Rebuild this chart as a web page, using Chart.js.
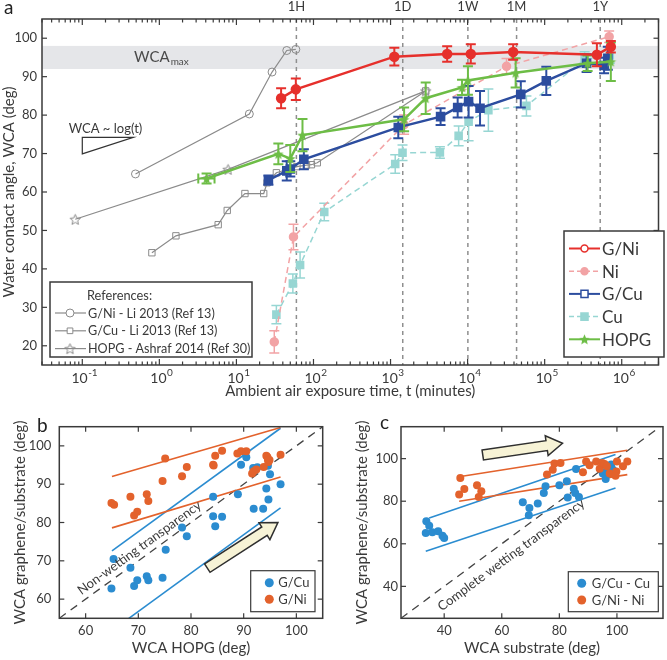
<!DOCTYPE html>
<html>
<head>
<meta charset="utf-8">
<script src="https://cdn.jsdelivr.net/npm/chart.js@4.4.1/dist/chart.umd.min.js"></script>
<style>
    html, body { margin: 0; padding: 0; background: #fff; }
    #wrap { position: relative; width: 667px; height: 660px; }
    canvas { position: absolute; }
</style>
</head>
<body>
<div id="wrap">
    <canvas id="ChartA" width="667" height="400" style="left:0;top:0"></canvas>
    <canvas id="ChartB" width="333" height="260" style="left:0;top:400px"></canvas>
    <canvas id="ChartC" width="334" height="260" style="left:333px;top:400px"></canvas>
</div>
<script>
// ---------- panel a : WCA vs ambient exposure time (minutes) ----------
const gniT   = [38, 59, 1120, 5430, 11000, 39000, 476000, 722000];
const gniWca = [84.4, 86.7, 95.2, 95.9, 95.9, 96.4, 95.7, 97.8];
const gniErr = [2.6, 2.8, 2.3, 2.0, 2.5, 2.0, 3.0, 1.5];

const niT   = [31, 55, 1500, 32000, 687000];
const niWca = [21.0, 48.3, 77.5, 92.7, 100.4];
const niErr = [2.9, 3.3, 2.5, 2.0, 1.5];

const gcuT   = [26, 45, 50, 75, 1260, 4460, 7430, 10300, 14500, 49000, 105000, 350000, 590000, 660000];
const gcuWca = [63.1, 65.5, 66.0, 68.5, 76.8, 79.6, 82.0, 83.5, 81.8, 85.4, 88.9, 93.5, 92.9, 94.8];
const gcuErr = [1.2, 2.5, 2.0, 2.6, 2.8, 2.2, 2.6, 4.1, 4.5, 3.4, 3.7, 2.3, 2.0, 3.0];

const cuT   = [33, 54, 67, 138, 1150, 1430, 4370, 7650, 10300, 18600, 58000, 330000, 700000];
const cuWca = [28.1, 36.2, 41.0, 54.8, 67.3, 70.2, 70.3, 74.6, 78.3, 81.3, 82.4, 94.5, 95.5];
const cuErr = [2.4, 2.5, 3.4, 2.3, 2.4, 2.0, 1.5, 2.6, 5.0, 5.5, 2.6, 2.0, 2.0];

const hopgT      = [4.1, 35, 50, 72, 1500, 2860, 8470, 10100, 42000, 361000, 722000];
const hopgWca    = [63.5, 69.9, 68.7, 74.8, 78.9, 84.4, 87.2, 89.0, 91.0, 93.5, 93.9];
const hopgErr    = [1.3, 2.7, 3.5, 4.2, 3.1, 4.1, 2.0, 3.7, 3.8, 2.0, 5.0];
const hopgTRange = [[3.2, 5.2]];

// literature data (grey)
const liNiT    = [0.49, 14.7, 29, 45, 59];
const liNiWca  = [64.7, 80.3, 91.2, 96.8, 97.1];
const liCuT    = [0.8, 1.64, 5.8, 7.6, 12.9, 22.6, 25, 33, 61, 81, 94, 112, 2860];
const liCuWca  = [44.2, 48.6, 51.5, 55.2, 59.6, 59.6, 62.4, 65.0, 66.6, 67.0, 67.1, 67.6, 86.3];
const ashT     = [0.081, 7.8, 2860];
const ashWca   = [52.9, 65.9, 86.3];

const decades     = [0.1, 1, 10, 100, 1e3, 1e4, 1e5, 1e6];
const decadeExp   = ['-1', '0', '1', '2', '3', '4', '5', '6'];
const yTicksA     = [20, 30, 40, 50, 60, 70, 80, 90, 100];
const timeMarks   = [60, 1440, 10080, 43200, 525600];
const timeLabels  = ['1H', '1D', '1W', '1M', '1Y'];
const wcaMaxBand  = [92, 98];

// ---------- panel b : graphene WCA vs HOPG WCA ----------
const bCuX = [64.9, 65.3, 68.5, 69.2, 69.8, 71.6, 71.9, 74.6, 75.2, 78.3, 79.2, 84.2, 84.2, 84.6, 85.9, 88.9, 89.5, 90.5, 91.8, 91.9, 92.6, 93.7, 94.3, 94.6, 94.7, 95.0, 97.0];
const bCuY = [62.8, 70.5, 68.2, 63.4, 64.9, 66.0, 64.9, 65.6, 72.9, 78.7, 76.4, 86.7, 81.6, 79.0, 81.5, 87.4, 95.1, 97.0, 94.2, 83.6, 94.4, 83.6, 88.9, 94.8, 86.0, 92.6, 90.0];
const bNiX = [64.9, 65.4, 68.5, 69.2, 69.8, 71.6, 71.9, 74.6, 75.1, 78.3, 79.2, 84.2, 84.3, 84.6, 85.9, 88.8, 89.5, 90.5, 91.6, 91.9, 92.4, 93.8, 94.3, 94.5, 94.6, 94.7, 94.9, 97.0];
const bNiY = [85.1, 84.6, 86.7, 81.8, 82.8, 87.4, 85.6, 90.8, 96.7, 92.1, 94.5, 95.1, 94.9, 97.4, 98.7, 98.0, 98.6, 98.6, 92.8, 93.4, 93.8, 94.5, 97.4, 97.1, 96.4, 95.8, 96.3, 97.7];
const bNiHiX = [65, 97],   bNiHiY = [92.0, 104.8];
const bNiLoX = [65, 97],   bNiLoY = [78.6, 91.9];
const bCuHiX = [65, 97],   bCuHiY = [72.6, 104.6];
const bCuLoX = [68.2, 97], bCuLoY = [55.0, 83.8];
const bDiag = [55, 105];
const bTicks = [60, 70, 80, 90, 100];

// ---------- panel c : graphene WCA vs substrate WCA ----------
const cCuX = [33.8, 34.8, 33.6, 35.9, 37.9, 39.4, 40.0, 67.3, 69.6, 69.4, 72.5, 74.6, 75.2, 80.0, 82.6, 82.9, 85.0, 85.5, 86.8, 85.8, 95.1, 96.1, 96.9, 98.0, 96.3, 98.6];
const cCuY = [70.6, 68.5, 65.1, 65.4, 65.9, 63.8, 62.7, 79.5, 76.8, 73.4, 78.9, 83.9, 87.0, 87.5, 89.4, 81.8, 85.9, 83.9, 82.0, 95.1, 93.0, 90.4, 95.6, 97.2, 94.0, 94.8];
const cNiX = [45.2, 45.6, 47.0, 51.4, 52.0, 52.9, 75.7, 77.7, 78.3, 80.4, 88.2, 89.3, 90.5, 92.8, 94.0, 94.9, 95.7, 96.5, 97.5, 99.8, 100.0, 102.1, 103.6, 99.5];
const cNiY = [83.1, 90.9, 85.7, 87.5, 82.0, 84.7, 92.5, 94.8, 97.7, 98.0, 93.6, 98.7, 96.9, 98.7, 95.3, 98.0, 97.5, 96.4, 93.0, 94.0, 98.7, 96.4, 98.7, 92.0];
const cNiHiX = [44.6, 103.6], cNiHiY = [91.4, 103.9];
const cNiLoX = [45.2, 103.6], cNiLoY = [80.0, 92.5];
const cCuHiX = [34.8, 99.5],  cCuHiY = [72.1, 101.9];
const cCuLoX = [33.6, 99.5],  cCuLoY = [56.5, 86.2];
const cDiag = [25, 115];
const cXTicks = [40, 60, 80, 100];
const cYTicks = [40, 60, 80, 100];


const FONT = 'Lato, "Open Sans", sans-serif';
const TXT = '#3a3a3a';
const AX = '#3a3a3a';
const RED = '#e6302c', PINK = '#f2a3a5', BLUE = '#2c4d9f', CYAN = '#97d6d3', GREEN = '#6dbd46', GREY = '#8b8b8b';
const SBLUE = '#2b8cd0', SORANGE = '#e3622c';

const pts = (xs, ys) => xs.map((x, i) => ({ x: x, y: ys[i] }));

const starImage = (size, fill, stroke) => {
    const c = document.createElement('canvas');
    c.width = c.height = size;
    const g = c.getContext('2d');
    const r = size / 2 - 1, ri = r * 0.45, cx = size / 2, cy = size / 2 + 0.6;
    g.beginPath();
    for (let k = 0; k < 10; k++) {
        const a = -Math.PI / 2 + k * Math.PI / 5, rr = k % 2 ? ri : r;
        g.lineTo(cx + rr * Math.cos(a), cy + rr * Math.sin(a));
    }
    g.closePath();
    if (fill) { g.fillStyle = fill; g.fill(); }
    if (stroke) { g.strokeStyle = stroke; g.lineWidth = 1; g.stroke(); }
    return c;
};
const starGreen = starImage(13, GREEN, null);
const starGrey = starImage(13, null, GREY);

const drawMarker = (ctx, style, x, y, r, fill, stroke, lw) => {
    ctx.save();
    ctx.setLineDash([]);
    if (style instanceof HTMLCanvasElement) {
        ctx.drawImage(style, x - style.width / 2, y - style.height / 2);
        ctx.restore();
        return;
    }
    ctx.beginPath();
    if (style === 'rect') {
        const s = r * Math.SQRT1_2;
        ctx.rect(x - s, y - s, 2 * s, 2 * s);
    } else {
        ctx.arc(x, y, r, 0, Math.PI * 2);
    }
    if (fill) { ctx.fillStyle = fill; ctx.fill(); }
    if (stroke) { ctx.strokeStyle = stroke; ctx.lineWidth = lw || 1; ctx.stroke(); }
    ctx.restore();
};

const errorBars = (chart, index) => {
    const ds = chart.data.datasets[index];
    if (!ds.errors) return;
    const meta = chart.getDatasetMeta(index);
    const { ctx, chartArea: a, scales: { x: xs, y: ys } } = chart;
    ctx.save();
    ctx.beginPath();
    ctx.rect(a.left, a.top, a.right - a.left, a.bottom - a.top);
    ctx.clip();
    ctx.strokeStyle = ds.borderColor;
    ctx.lineWidth = ds.errWidth || 2;
    ctx.setLineDash([]);
    ds.data.forEach((p, j) => {
        const e = ds.errors[j];
        const x = meta.data[j].x, y = meta.data[j].y;
        const y1 = ys.getPixelForValue(p.y - e), y2 = ys.getPixelForValue(p.y + e);
        ctx.beginPath();
        ctx.moveTo(x, y1); ctx.lineTo(x, y2);
        ctx.moveTo(x - 5, y1); ctx.lineTo(x + 5, y1);
        ctx.moveTo(x - 5, y2); ctx.lineTo(x + 5, y2);
        if (ds.xErrors && ds.xErrors[j]) {
            const xa = xs.getPixelForValue(ds.xErrors[j][0]), xb = xs.getPixelForValue(ds.xErrors[j][1]);
            ctx.moveTo(xa, y); ctx.lineTo(xb, y);
            ctx.moveTo(xa, y - 5); ctx.lineTo(xa, y + 5);
            ctx.moveTo(xb, y - 5); ctx.lineTo(xb, y + 5);
        }
        ctx.stroke();
    });
    ctx.restore();
};

const line = (ctx, x0, y0, x1, y1) => {
    ctx.beginPath(); ctx.moveTo(x0, y0); ctx.lineTo(x1, y1); ctx.stroke();
};

const drawFrame = (chart, xTicks, yTicks, len) => {
    const { ctx, chartArea: a, scales: { x, y } } = chart;
    ctx.save();
    ctx.strokeStyle = AX;
    ctx.lineWidth = 1.5;
    ctx.setLineDash([]);
    ctx.strokeRect(a.left, a.top, a.right - a.left, a.bottom - a.top);
    ctx.lineWidth = 1.2;
    if (xTicks) xTicks.forEach(v => {
        const px = x.getPixelForValue(v);
        line(ctx, px, a.bottom, px, a.bottom - len);
        line(ctx, px, a.top, px, a.top + len);
    });
    yTicks.forEach(v => {
        const py = y.getPixelForValue(v);
        line(ctx, a.left, py, a.left + len, py);
        line(ctx, a.right, py, a.right - len, py);
    });
    ctx.restore();
};

const text = (ctx, s, x, y, size, align, base, color) => {
    ctx.font = size + 'px ' + FONT;
    ctx.fillStyle = color || TXT;
    ctx.textAlign = align || 'left';
    ctx.textBaseline = base || 'alphabetic';
    ctx.fillText(s, x, y);
};

const drawArrow = (ctx, x0, y0, x1, y1) => {
    const ang = Math.atan2(y1 - y0, x1 - x0), len = Math.hypot(x1 - x0, y1 - y0);
    const sh = 5, hw = 10, hl = 16;
    ctx.save();
    ctx.translate(x0, y0);
    ctx.rotate(ang);
    ctx.beginPath();
    ctx.moveTo(0, -sh); ctx.lineTo(len - hl, -sh); ctx.lineTo(len - hl, -hw); ctx.lineTo(len, 0);
    ctx.lineTo(len - hl, hw); ctx.lineTo(len - hl, sh); ctx.lineTo(0, sh);
    ctx.closePath();
    ctx.fillStyle = '#f7f3d6';
    ctx.fill();
    ctx.strokeStyle = '#2f2f2f';
    ctx.lineWidth = 1.5;
    ctx.stroke();
    ctx.restore();
};

const diagText = (chart, s, vx, vy) => {
    const { ctx, scales: { x, y } } = chart;
    const ang = Math.atan2(y.getPixelForValue(100) - y.getPixelForValue(50), x.getPixelForValue(100) - x.getPixelForValue(50));
    ctx.save();
    ctx.translate(x.getPixelForValue(vx), y.getPixelForValue(vy));
    ctx.rotate(ang);
    text(ctx, s, 0, 0, 13, 'center', 'middle');
    ctx.restore();
};

const dotLegend = (ctx, bx, by, bw, bh, rows, dotX, textX) => {
    ctx.save();
    ctx.fillStyle = '#fff';
    ctx.fillRect(bx, by, bw, bh);
    ctx.strokeStyle = AX;
    ctx.lineWidth = 1.2;
    ctx.strokeRect(bx, by, bw, bh);
    rows.forEach(r => {
        drawMarker(ctx, 'circle', dotX, r.y, 4.5, r.color);
        text(ctx, r.label, textX, r.y + 0.5, 13, 'left', 'middle');
    });
    ctx.restore();
};


// ---------- chart a ----------
const legendA = [
    { label: 'G/Ni', color: RED, dash: [], lw: 2, marker: 'circle', r: 3.5, fill: '#fff' },
    { label: 'Ni', color: PINK, dash: [5, 3], lw: 1.5, marker: 'circle', r: 3.5, fill: PINK },
    { label: 'G/Cu', color: BLUE, dash: [], lw: 2, marker: 'rect', r: 5, fill: '#fff' },
    { label: 'Cu', color: CYAN, dash: [5, 3], lw: 1.5, marker: 'rect', r: 5, fill: CYAN },
    { label: 'HOPG', color: GREEN, dash: [], lw: 2, marker: starGreen }
];
const legendRefs = [
    { label: 'G/Ni - Li 2013 (Ref 13)', marker: 'circle' },
    { label: 'G/Cu - Li 2013 (Ref 13)', marker: 'rect' },
    { label: 'HOPG - Ashraf 2014 (Ref 30)', marker: starGrey }
];

const PanelA = {
    id: 'panelA',
    beforeDatasetsDraw(chart) {
        const { ctx, chartArea: a, scales: { x, y } } = chart;
        ctx.save();
        const yHi = y.getPixelForValue(wcaMaxBand[1]), yLo = y.getPixelForValue(wcaMaxBand[0]);
        ctx.fillStyle = '#e5e6e9';
        ctx.fillRect(a.left, yHi, a.right - a.left, yLo - yHi);
        const ym = (yHi + yLo) / 2;
        text(ctx, 'WCA', x.getPixelForValue(0.47), ym + 5, 15, 'left', 'alphabetic', '#4a4a4a');
        const w = ctx.measureText('WCA').width;
        text(ctx, 'max', x.getPixelForValue(0.47) + w + 1, ym + 8, 10, 'left', 'alphabetic', '#4a4a4a');

        ctx.strokeStyle = '#8f8f8f';
        ctx.lineWidth = 1.5;
        ctx.setLineDash([4, 4]);
        timeMarks.forEach(t => {
            const px = x.getPixelForValue(t);
            line(ctx, px, a.top, px, a.bottom);
        });
        ctx.restore();
    },
    afterDatasetDraw(chart, args) {
        errorBars(chart, args.index);
    },
    afterDraw(chart) {
        const { ctx, chartArea: a, scales: { x, y } } = chart;
        drawFrame(chart, null, yTicksA, 5);

        // log minor ticks top and bottom
        ctx.save();
        ctx.strokeStyle = AX;
        ctx.lineWidth = 1.2;
        for (let d = 0.01; d <= 1e6; d *= 10) {
            for (let m = 1; m <= 9; m++) {
                const v = m * d;
                if (v < x.min || v > x.max) continue;
                const px = x.getPixelForValue(v), L = m === 1 ? 6 : 3.5;
                line(ctx, px, a.bottom, px, a.bottom - L);
                line(ctx, px, a.top, px, a.top + L);
            }
        }
        ctx.restore();

        // decade labels with superscript
        decades.forEach((v, i) => {
            const px = x.getPixelForValue(v);
            ctx.font = '14px ' + FONT;
            const wb = ctx.measureText('10').width;
            ctx.font = '10px ' + FONT;
            const we = ctx.measureText(decadeExp[i]).width;
            const x0 = px - (wb + we) / 2 + 2;
            text(ctx, '10', x0, a.bottom + 18, 14);
            text(ctx, decadeExp[i], x0 + wb + 0.5, a.bottom + 11, 10);
        });

        // top time labels
        timeMarks.forEach((t, i) => {
            text(ctx, timeLabels[i], x.getPixelForValue(t), 11, 13, 'center');
        });

        // slope annotation
        text(ctx, 'WCA ~ log(t)', x.getPixelForValue(0.2), y.getPixelForValue(76.4), 13, 'center', 'middle');
        ctx.save();
        ctx.strokeStyle = '#333';
        ctx.lineWidth = 1.2;
        ctx.beginPath();
        ctx.moveTo(x.getPixelForValue(0.46), y.getPixelForValue(74.2));
        ctx.lineTo(x.getPixelForValue(0.1), y.getPixelForValue(74.2));
        ctx.lineTo(x.getPixelForValue(0.1), y.getPixelForValue(69.9));
        ctx.closePath();
        ctx.stroke();
        ctx.restore();

        // main legend
        ctx.save();
        ctx.fillStyle = '#fff';
        ctx.fillRect(564, 231, 100, 126);
        ctx.strokeStyle = AX;
        ctx.lineWidth = 1.5;
        ctx.strokeRect(564, 231, 100, 126);
        legendA.forEach((r, i) => {
            const yy = 248.5 + i * 22.7;
            ctx.strokeStyle = r.color;
            ctx.lineWidth = r.lw;
            ctx.setLineDash(r.dash);
            line(ctx, 569, yy, 600, yy);
            drawMarker(ctx, r.marker, 584.5, yy, r.r, r.fill, r.color, 1.5);
            text(ctx, r.label, 602, yy + 1, 17, 'left', 'middle');
        });
        ctx.restore();

        // references legend
        ctx.save();
        ctx.fillStyle = '#fff';
        ctx.fillRect(50, 282, 202, 75);
        ctx.strokeStyle = AX;
        ctx.lineWidth = 1.5;
        ctx.strokeRect(50, 282, 202, 75);
        text(ctx, 'References:', 87, 295.5, 12.8, 'left', 'middle');
        legendRefs.forEach((r, i) => {
            const yy = 313 + i * 17.8;
            ctx.strokeStyle = GREY;
            ctx.lineWidth = 1.2;
            line(ctx, 55, yy, 86, yy);
            drawMarker(ctx, r.marker, 70, yy, 4, '#fff', GREY, 1);
            text(ctx, r.label, 88, yy + 0.5, 12.6, 'left', 'middle');
        });
        ctx.restore();

        text(ctx, 'a', 4, 14, 19, 'left', 'alphabetic', '#222');
    }
};

const ChartA = new Chart(document.getElementById('ChartA'), {
    type: 'line',
    data: {
        datasets: [{
            label: 'G/Ni', data: pts(gniT, gniWca), errors: gniErr,
            borderColor: RED, backgroundColor: RED, borderWidth: 2.5,
            pointStyle: 'circle', pointRadius: 4, pointBackgroundColor: RED, pointBorderColor: RED
        }, {
            label: 'HOPG', data: pts(hopgT, hopgWca), errors: hopgErr, xErrors: hopgTRange,
            borderColor: GREEN, backgroundColor: GREEN, borderWidth: 2.5,
            pointStyle: starGreen, pointRadius: 6
        }, {
            label: 'G/Cu', data: pts(gcuT, gcuWca), errors: gcuErr,
            borderColor: BLUE, backgroundColor: BLUE, borderWidth: 2.5,
            pointStyle: 'rect', pointRadius: 5, pointBackgroundColor: BLUE, pointBorderColor: BLUE
        }, {
            label: 'Ni', data: pts(niT, niWca), errors: niErr, errWidth: 1.5,
            borderColor: PINK, backgroundColor: PINK, borderWidth: 1.5, borderDash: [6, 4],
            pointStyle: 'circle', pointRadius: 4, pointBackgroundColor: PINK, pointBorderColor: PINK
        }, {
            label: 'Cu', data: pts(cuT, cuWca), errors: cuErr, errWidth: 1.5,
            borderColor: CYAN, backgroundColor: CYAN, borderWidth: 1.5, borderDash: [6, 4],
            pointStyle: 'rect', pointRadius: 5, pointBackgroundColor: CYAN, pointBorderColor: CYAN
        }, {
            label: 'G/Ni - Li 2013 (Ref 13)', data: pts(liNiT, liNiWca),
            borderColor: GREY, borderWidth: 1.2,
            pointStyle: 'circle', pointRadius: 4, pointBackgroundColor: 'rgba(0,0,0,0)', pointBorderColor: GREY, pointBorderWidth: 1
        }, {
            label: 'G/Cu - Li 2013 (Ref 13)', data: pts(liCuT, liCuWca),
            borderColor: GREY, borderWidth: 1.2,
            pointStyle: 'rect', pointRadius: 4.5, pointBackgroundColor: 'rgba(0,0,0,0)', pointBorderColor: GREY, pointBorderWidth: 1
        }, {
            label: 'HOPG - Ashraf 2014 (Ref 30)', data: pts(ashT, ashWca),
            borderColor: GREY, borderWidth: 1.2,
            pointStyle: starGrey, pointRadius: 6
        }]
    },
    options: {
        responsive: false,
        animation: false,
        events: [],
        layout: { padding: { top: 19, right: 3, left: 0, bottom: 0 } },
        plugins: { legend: { display: false }, tooltip: { enabled: false } },
        scales: {
            x: {
                type: 'logarithmic', min: 0.03, max: 3e6,
                afterFit: (s) => { s.height = 35; },
                afterBuildTicks: (s) => { s.ticks = decades.map(v => ({ value: v })); },
                ticks: { display: false },
                grid: { display: false, drawTicks: false },
                border: { display: false },
                title: { display: true, text: 'Ambient air exposure time, t (minutes)', color: TXT, font: { family: FONT, size: 15 }, padding: 0 }
            },
            y: {
                min: 15, max: 105,
                afterFit: (s) => { s.width = 42; },
                afterBuildTicks: (s) => { s.ticks = yTicksA.map(v => ({ value: v })); },
                ticks: { color: TXT, font: { family: FONT, size: 13 }, padding: 5 },
                grid: { display: false, drawTicks: false },
                border: { display: false },
                title: { display: true, text: 'Water contact angle, WCA (deg)', color: TXT, font: { family: FONT, size: 15 }, padding: 0 }
            }
        }
    },
    plugins: [PanelA]
});


// ---------- chart b ----------
const PanelB = {
    id: 'panelB',
    afterDraw(chart) {
        const { ctx, scales: { x, y } } = chart;
        drawFrame(chart, bTicks, bTicks, 5);
        diagText(chart, 'Non-wetting transparency', 70.2, 73.4);
        drawArrow(ctx, x.getPixelForValue(83.1), y.getPixelForValue(68.1), x.getPixelForValue(96.5), y.getPixelForValue(80.0));
        dotLegend(ctx, 250.7, 170.7, 64.3, 41, [
            { label: 'G/Cu', color: SBLUE, y: 182.7 },
            { label: 'G/Ni', color: SORANGE, y: 199.3 }
        ], 269.3, 278.3);
        text(ctx, 'b', 37, 32, 19, 'left', 'alphabetic', '#222');
    }
};

const ChartB = new Chart(document.getElementById('ChartB'), {
    type: 'scatter',
    data: {
        datasets: [
            { label: 'G/Ni', data: pts(bNiX, bNiY), pointRadius: 4, pointBackgroundColor: SORANGE, pointBorderWidth: 0 },
            { label: 'G/Cu', data: pts(bCuX, bCuY), pointRadius: 4, pointBackgroundColor: SBLUE, pointBorderWidth: 0 },
            { data: pts(bNiHiX, bNiHiY), showLine: true, pointRadius: 0, borderColor: SORANGE, borderWidth: 1.6 },
            { data: pts(bNiLoX, bNiLoY), showLine: true, pointRadius: 0, borderColor: SORANGE, borderWidth: 1.6 },
            { data: pts(bCuHiX, bCuHiY), showLine: true, pointRadius: 0, borderColor: SBLUE, borderWidth: 1.6 },
            { data: pts(bCuLoX, bCuLoY), showLine: true, pointRadius: 0, borderColor: SBLUE, borderWidth: 1.6 },
            { data: pts(bDiag, bDiag), showLine: true, pointRadius: 0, borderColor: '#444', borderWidth: 1.3, borderDash: [8, 6] }
        ]
    },
    options: {
        responsive: false,
        animation: false,
        events: [],
        layout: { padding: { top: 26.7, right: 10.3, left: 11, bottom: 3 } },
        plugins: { legend: { display: false }, tooltip: { enabled: false } },
        scales: {
            x: {
                min: 55, max: 105,
                afterFit: (s) => { s.height = 38.7; },
                afterBuildTicks: (s) => { s.ticks = bTicks.map(v => ({ value: v })); },
                ticks: { color: TXT, font: { family: FONT, size: 13 }, padding: 5 },
                grid: { display: false, drawTicks: false },
                border: { display: false },
                title: { display: true, text: 'WCA HOPG (deg)', color: TXT, font: { family: FONT, size: 15 }, padding: 0 }
            },
            y: {
                min: 55, max: 105,
                afterFit: (s) => { s.width = 48.3; },
                afterBuildTicks: (s) => { s.ticks = bTicks.map(v => ({ value: v })); },
                ticks: { color: TXT, font: { family: FONT, size: 13 }, padding: 8 },
                grid: { display: false, drawTicks: false },
                border: { display: false },
                title: { display: true, text: 'WCA graphene/substrate (deg)', color: TXT, font: { family: FONT, size: 15 }, padding: 0 }
            }
        }
    },
    plugins: [PanelB]
});


// ---------- chart c ----------
const PanelC = {
    id: 'panelC',
    afterDraw(chart) {
        const { ctx, scales: { x, y } } = chart;
        drawFrame(chart, cXTicks, cYTicks, 5);
        diagText(chart, 'Complete wetting transparency', 63.3, 54.7);
        drawArrow(ctx, x.getPixelForValue(53.4), y.getPixelForValue(101.7), x.getPixelForValue(81.1), y.getPixelForValue(107.2));
        dotLegend(ctx, 235.3, 171.7, 90, 40, [
            { label: 'G/Cu - Cu', color: SBLUE, y: 183.3 },
            { label: 'G/Ni - Ni', color: SORANGE, y: 200 }
        ], 248.7, 258.7);
        text(ctx, 'c', 47, 29, 19, 'left', 'alphabetic', '#222');
    }
};

const ChartC = new Chart(document.getElementById('ChartC'), {
    type: 'scatter',
    data: {
        datasets: [
            { label: 'G/Ni - Ni', data: pts(cNiX, cNiY), pointRadius: 4, pointBackgroundColor: SORANGE, pointBorderWidth: 0 },
            { label: 'G/Cu - Cu', data: pts(cCuX, cCuY), pointRadius: 4, pointBackgroundColor: SBLUE, pointBorderWidth: 0 },
            { data: pts(cNiHiX, cNiHiY), showLine: true, pointRadius: 0, borderColor: SORANGE, borderWidth: 1.6 },
            { data: pts(cNiLoX, cNiLoY), showLine: true, pointRadius: 0, borderColor: SORANGE, borderWidth: 1.6 },
            { data: pts(cCuHiX, cCuHiY), showLine: true, pointRadius: 0, borderColor: SBLUE, borderWidth: 1.6 },
            { data: pts(cCuLoX, cCuLoY), showLine: true, pointRadius: 0, borderColor: SBLUE, borderWidth: 1.6 },
            { data: pts(cDiag, cDiag), showLine: true, pointRadius: 0, borderColor: '#444', borderWidth: 1.3, borderDash: [8, 6] }
        ]
    },
    options: {
        responsive: false,
        animation: false,
        events: [],
        layout: { padding: { top: 26.7, right: 2.7, left: 20.5, bottom: 3 } },
        plugins: { legend: { display: false }, tooltip: { enabled: false } },
        scales: {
            x: {
                min: 25, max: 116,
                afterFit: (s) => { s.height = 38.7; },
                afterBuildTicks: (s) => { s.ticks = cXTicks.map(v => ({ value: v })); },
                ticks: { color: TXT, font: { family: FONT, size: 13 }, padding: 5 },
                grid: { display: false, drawTicks: false },
                border: { display: false },
                title: { display: true, text: 'WCA substrate (deg)', color: TXT, font: { family: FONT, size: 15 }, padding: 0 }
            },
            y: {
                min: 25, max: 115,
                afterFit: (s) => { s.width = 47.5; },
                afterBuildTicks: (s) => { s.ticks = cYTicks.map(v => ({ value: v })); },
                ticks: { color: TXT, font: { family: FONT, size: 13 }, padding: 3 },
                grid: { display: false, drawTicks: false },
                border: { display: false },
                title: { display: true, text: 'WCA graphene/substrate (deg)', color: TXT, font: { family: FONT, size: 15 }, padding: 0 }
            }
        }
    },
    plugins: [PanelC]
});
</script>
</body>
</html>
